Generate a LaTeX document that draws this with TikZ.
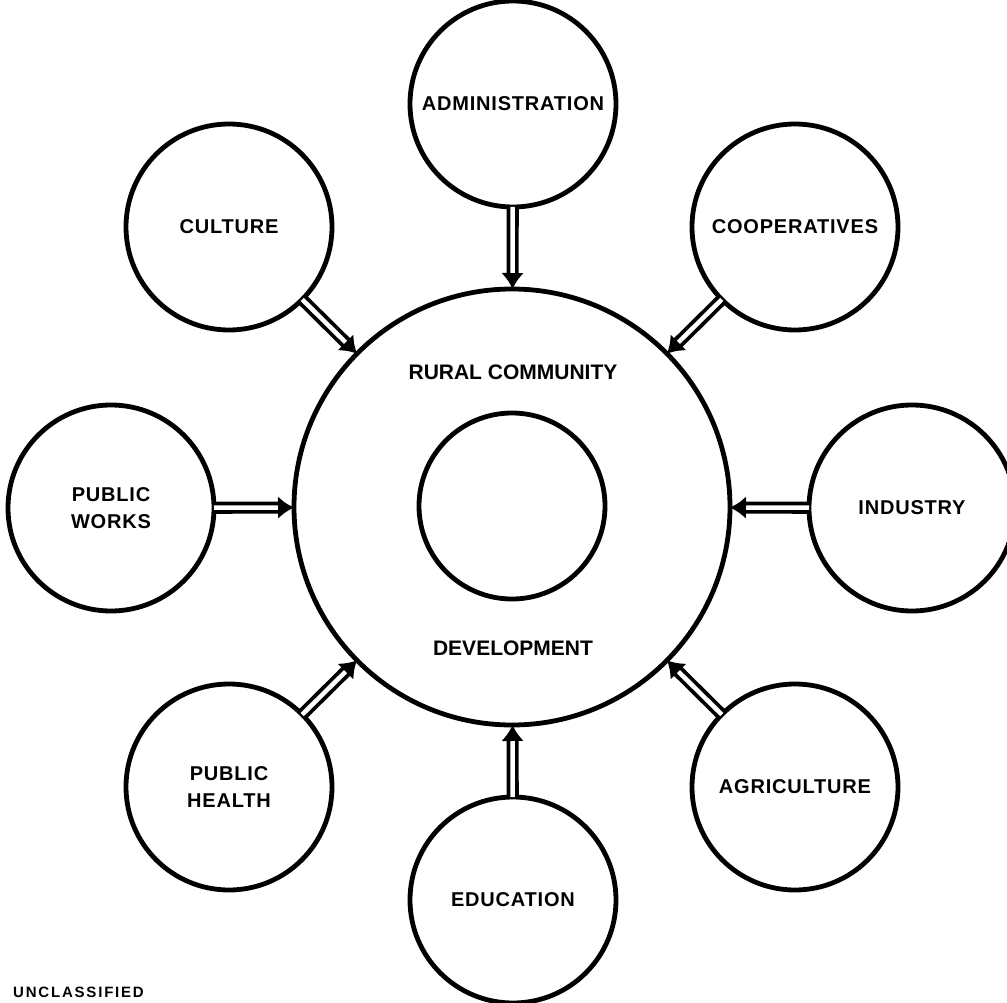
\documentclass[tikz,border=0pt]{standalone}
\usepackage{fontspec}
\setmainfont{Liberation Sans}
\usetikzlibrary{arrows.meta}
\begin{document}
\begin{tikzpicture}[x=1pt,y=-1pt,
  ring/.style={circle,draw,line width=4.8pt,inner sep=0pt,outer sep=0pt,minimum size=#1},
  lbl/.style={font=\fontsize{20}{27}\selectfont\bfseries\addfontfeatures{LetterSpace=4},align=center},
  biglbl/.style={font=\fontsize{21}{25}\selectfont\bfseries},
  feed/.style={double distance=4.5pt,line width=3.8pt,-{Latex[length=16pt,width=23pt]}}
]
\useasboundingbox (0,0) rectangle (1007,1003);
% central rings
\node[ring=436pt] (rc) at (512,507) {};
\node[ring=186pt] (core) at (512,506) {};
\node[biglbl] (rctxt) at (513,372) {RURAL COMMUNITY};
\node[biglbl] (devtxt) at (513,648) {DEVELOPMENT};
% satellites
\node[ring=206pt,lbl] (adm) at (513,104) {ADMINISTRATION};
\node[ring=206pt,lbl] (cul) at (229,227) {CULTURE};
\node[ring=206pt,lbl] (coop) at (795,227) {COOPERATIVES};
\node[ring=206pt,lbl] (pw) at (111,508) {PUBLIC\\WORKS};
\node[ring=206pt,lbl] (ind) at (912,508) {INDUSTRY};
\node[ring=206pt,lbl] (ph) at (229,787) {PUBLIC\\HEALTH};
\node[ring=206pt,lbl] (agr) at (795,787) {AGRICULTURE};
\node[ring=206pt,lbl] (edu) at (513,900) {EDUCATION};
% connectors
\draw[feed] (adm) -- (rc);
\draw[feed] (cul) -- (rc);
\draw[feed] (coop) -- (rc);
\draw[feed] (pw) -- (rc);
\draw[feed] (ind) -- (rc);
\draw[feed] (ph) -- (rc);
\draw[feed] (agr) -- (rc);
\draw[feed] (edu) -- (rc);
% footer
\node[anchor=base west,inner sep=0pt,font=\fontsize{15}{18}\selectfont\bfseries\addfontfeatures{LetterSpace=12}] (uncl) at (13,997) {UNCLASSIFIED};
\end{tikzpicture}
\end{document}
